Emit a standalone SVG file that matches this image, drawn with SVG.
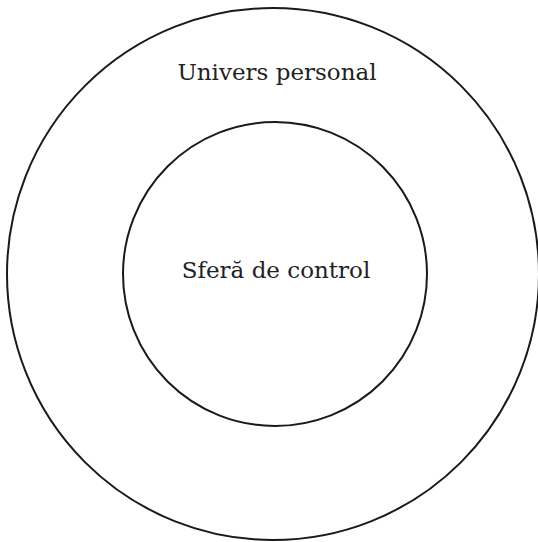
<svg xmlns="http://www.w3.org/2000/svg" width="538" height="542" viewBox="0 0 538 542">
<style>
.ring{fill:none;stroke:#1a1a1a;stroke-width:2}
.lbl{font-family:"DejaVu Serif","Liberation Serif",serif;font-size:23px;fill:#222;text-anchor:middle}
</style>
<rect width="538" height="542" fill="#fff"/>
<g id="outer">
<circle class="ring" cx="273" cy="274" r="266"/>
<text class="lbl" x="277" y="80">Univers personal</text>
</g>
<g id="inner">
<circle class="ring" cx="275" cy="274" r="152"/>
<text class="lbl" x="276" y="278">Sferă de control</text>
</g>
<g id="connectors"/>
</svg>
